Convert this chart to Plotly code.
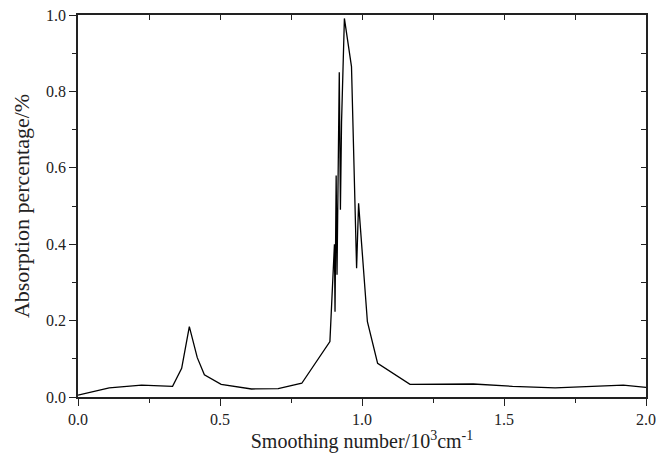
import plotly.graph_objects as go

wavenumber = [0.0, 0.110, 0.224, 0.333, 0.365, 0.392, 0.420, 0.445, 0.504, 0.611, 0.705, 0.788,
              0.887, 0.903, 0.905, 0.909, 0.912, 0.920, 0.924, 0.928, 0.938, 0.963, 0.981, 0.988,
              1.019, 1.055, 1.169, 1.392, 1.530, 1.680, 1.920, 2.0]
absorption = [0.005, 0.024, 0.031, 0.028, 0.075, 0.184, 0.103, 0.058, 0.033, 0.021, 0.022, 0.036,
              0.145, 0.40, 0.223, 0.58, 0.32, 0.85, 0.49, 0.72, 0.991, 0.865, 0.337, 0.507,
              0.197, 0.088, 0.033, 0.034, 0.028, 0.024, 0.031, 0.025]

x_ticks = [0.0, 0.5, 1.0, 1.5, 2.0]
y_ticks = [0.0, 0.2, 0.4, 0.6, 0.8, 1.0]

font_family = "Liberation Serif, Times New Roman, serif"
axis_color = "#222222"

fig = go.Figure()
fig.add_trace(go.Scatter(x=wavenumber, y=absorption, mode="lines",
                         line=dict(color="black", width=1.3), showlegend=False))
fig.add_trace(go.Scatter(x=[], y=[], xaxis="x2", yaxis="y2", showlegend=False, hoverinfo="skip"))

common = dict(showgrid=False, zeroline=False, showline=True, linecolor=axis_color,
              linewidth=1.5, automargin=False, ticklabeloverflow="allow")

fig.update_layout(
    width=656, height=461,
    margin=dict(l=78, r=10, t=15, b=64),
    paper_bgcolor="white", plot_bgcolor="white",
    font=dict(family=font_family, size=16, color="#222222"),
    xaxis=dict(range=[0, 2.0], tickvals=x_ticks, ticktext=[f"{v:.1f}" for v in x_ticks],
               ticks="outside", ticklen=7, tickwidth=1.3, tickcolor=axis_color,
               minor=dict(tickvals=[0.25, 0.75, 1.25, 1.75], ticks="outside", ticklen=4,
                          tickwidth=1.2, tickcolor=axis_color),
               title=dict(text="Smoothing number/10<sup>3</sup>cm<sup>-1</sup>",
                          font=dict(size=20), standoff=6),
               **common),
    yaxis=dict(range=[0, 1.0], tickvals=y_ticks, ticktext=[f"{v:.1f}" for v in y_ticks],
               ticks="outside", ticklen=7, tickwidth=1.3, tickcolor=axis_color,
               minor=dict(tickvals=[0.1, 0.3, 0.5, 0.7, 0.9], ticks="outside", ticklen=4,
                          tickwidth=1.2, tickcolor=axis_color),
               title=dict(text="Absorption percentage/%", font=dict(size=22), standoff=10),
               **common),
    xaxis2=dict(range=[0, 2.0], overlaying="x", side="top", anchor="y",
                tickvals=x_ticks + [0.25, 0.75, 1.25, 1.75], showticklabels=False,
                ticks="inside", ticklen=5, tickwidth=1.3, tickcolor=axis_color, **common),
    yaxis2=dict(range=[0, 1.0], overlaying="y", side="right", anchor="x",
                tickvals=y_ticks + [0.1, 0.3, 0.5, 0.7, 0.9], showticklabels=False,
                ticks="inside", ticklen=5, tickwidth=1.3, tickcolor=axis_color, **common),
)

fig.write_html("out.html", config={"displayModeBar": False},
               post_script="document.body.style.margin='0';")
